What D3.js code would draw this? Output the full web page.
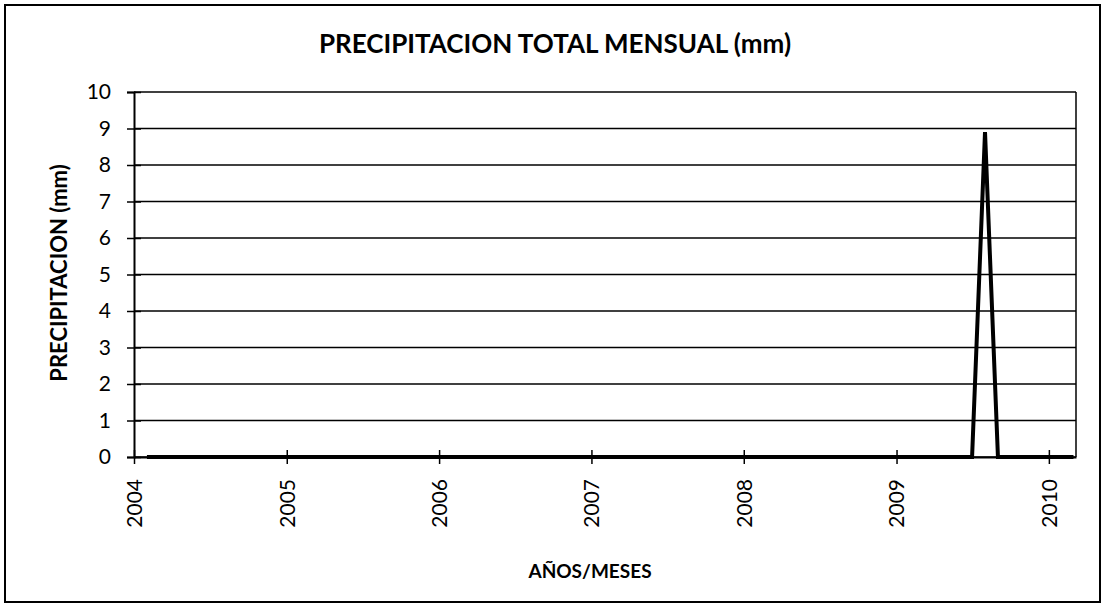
<!DOCTYPE html>
<html>
<head>
<meta charset="utf-8">
<script src="https://cdn.jsdelivr.net/npm/d3@7"></script>
<style>
  body { margin: 0; background: #fff; }
  svg { display: block; font-family: Lato, "Open Sans", sans-serif; }
</style>
</head>
<body>
<svg id="my-svg" width="1105" height="613"></svg>
<script>
// monthly totals (mm), one array per year; 2004 starts in Feb, 2010 ends in Mar
const precip2004 = [0, 0, 0, 0, 0, 0, 0, 0, 0, 0, 0];
const precip2005 = [0, 0, 0, 0, 0, 0, 0, 0, 0, 0, 0, 0];
const precip2006 = [0, 0, 0, 0, 0, 0, 0, 0, 0, 0, 0, 0];
const precip2007 = [0, 0, 0, 0, 0, 0, 0, 0, 0, 0, 0, 0];
const precip2008 = [0, 0, 0, 0, 0, 0, 0, 0, 0, 0, 0, 0];
const precip2009 = [0, 0, 0, 0, 0, 0, 0, 8.9, 0, 0, 0, 0];
const precip2010 = [0, 0, 0];
const firstMonth = '2004-02';
const yearTicks = ['2004', '2005', '2006', '2007', '2008', '2009', '2010'];
const yTicks = [0, 1, 2, 3, 4, 5, 6, 7, 8, 9, 10];

const chartTitle = 'PRECIPITACION TOTAL MENSUAL (mm)';
const xTitle = 'AÑOS/MESES';
const yTitle = 'PRECIPITACION (mm)';

const svg = d3.select('svg');
const parseMonth = d3.timeParse('%Y-%m');
const parseYear = d3.timeParse('%Y');

const allValues = [].concat(precip2004, precip2005, precip2006, precip2007,
                            precip2008, precip2009, precip2010);
const start = parseMonth(firstMonth);
const data = allValues.map((v, i) => [d3.timeMonth.offset(start, i), v]);

const margin = {top: 92, right: 29, bottom: 156, left: 134};
const innerWidth = 1105 - margin.left - margin.right;
const innerHeight = 613 - margin.top - margin.bottom;
const fontStack = 'Lato, "Open Sans", sans-serif';

// outer frame
svg.append('rect')
    .attr('x', 5).attr('y', 5)
    .attr('width', 1095).attr('height', 597)
    .attr('fill', 'none')
    .attr('stroke', '#000')
    .attr('stroke-width', 2);

const xScale = d3.scaleTime()
    .domain([parseYear('2004'), new Date(2010, 2, 7)])
    .range([0, innerWidth]);

const yScale = d3.scaleLinear()
    .domain([0, 10])
    .range([innerHeight, 0]);

const g = svg.append('g')
    .attr('transform', `translate(${margin.left}, ${margin.top})`);

// horizontal gridlines
g.selectAll('.grid').data(yTicks)
    .enter()
    .append('line')
    .attr('class', 'grid')
    .attr('x1', 0)
    .attr('x2', innerWidth)
    .attr('y1', d => yScale(d))
    .attr('y2', d => yScale(d))
    .attr('stroke', '#000')
    .attr('stroke-width', 1.5);

// right edge of plot area
g.append('line')
    .attr('x1', innerWidth).attr('x2', innerWidth)
    .attr('y1', 0).attr('y2', innerHeight)
    .attr('stroke', '#000')
    .attr('stroke-width', 1.5);

const yAxis = d3.axisLeft(yScale)
    .tickValues(yTicks)
    .tickSize(7)
    .tickPadding(6);

const yAxisGroup = g.append('g').call(yAxis)
    .attr('font-family', fontStack)
    .attr('font-size', 21);
yAxisGroup.select('.domain').attr('stroke-width', 2);
yAxisGroup.selectAll('.tick line')
    .attr('x2', 7).attr('x1', -7)
    .attr('stroke-width', 1.5);
yAxisGroup.selectAll('.tick text')
    .attr('x', -23)
    .attr('fill', '#000');

const xAxis = d3.axisBottom(xScale)
    .tickValues(yearTicks.map(parseYear))
    .tickFormat(d3.timeFormat('%Y'))
    .tickSize(7)
    .tickSizeOuter(0);

const xAxisGroup = g.append('g')
    .attr('transform', `translate(0, ${innerHeight})`)
    .call(xAxis)
    .attr('font-family', fontStack)
    .attr('font-size', 21);
xAxisGroup.select('.domain').attr('stroke-width', 2);
xAxisGroup.selectAll('.tick line')
    .attr('y1', -7).attr('y2', 7)
    .attr('stroke-width', 1.5);
xAxisGroup.selectAll('.tick text')
    .attr('transform', 'rotate(-90)')
    .attr('x', -22)
    .attr('y', 0)
    .attr('dy', '0.35em')
    .attr('text-anchor', 'end')
    .attr('fill', '#000');

const line = d3.line()
    .x(d => xScale(d[0]))
    .y(d => yScale(d[1]));

g.append('path')
    .datum(data)
    .attr('d', line)
    .attr('fill', 'none')
    .attr('stroke', '#000')
    .attr('stroke-width', 4)
    .attr('stroke-linejoin', 'miter');

svg.append('text')
    .attr('x', 555)
    .attr('y', 53)
    .attr('text-anchor', 'middle')
    .attr('font-size', 26)
    .attr('font-weight', 'bold')
    .text(chartTitle);

svg.append('text')
    .attr('x', 590)
    .attr('y', 578)
    .attr('text-anchor', 'middle')
    .attr('font-size', 19)
    .attr('font-weight', 'bold')
    .text(xTitle);

svg.append('text')
    .attr('transform', 'translate(67, 273) rotate(-90)')
    .attr('text-anchor', 'middle')
    .attr('font-size', 22)
    .attr('font-weight', 'bold')
    .text(yTitle);
</script>
</body>
</html>
